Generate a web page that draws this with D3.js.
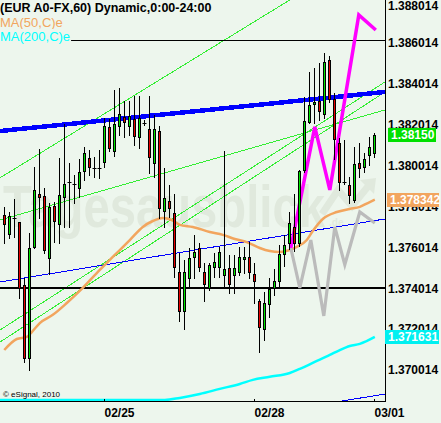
<!DOCTYPE html>
<html><head><meta charset="utf-8">
<script src="https://cdn.jsdelivr.net/npm/d3@7"></script>
<style>body{margin:0;background:#edf6ed}svg{display:block}</style>
</head><body><svg id="c" width="441" height="423"></svg>
<script>
// ---------- data ----------
const openP  = [1.37760,1.37666,1.37745,1.37725,1.37418,1.37060,1.37603,1.37862,1.37853,1.37549,1.37804,1.37715,1.37848,1.37921,1.37911,1.37892,1.37975,1.38038,1.37990,1.37990,
1.38019,1.38190,1.38072,1.38195,1.38239,1.38195,1.38229,1.38141,1.38209,1.38180,1.38014,1.38170,1.37779,1.37828,1.37769,1.37481,1.37290,1.37452,1.37554,1.37598,
1.37481,1.37403,1.37506,1.37506,1.37467,1.37501,1.37467,1.37481,1.37544,1.37554,1.37471,1.37339,1.37202,1.37324,1.37403,1.37437,1.37568,1.37622,1.37701,1.37622,
1.37980,1.38214,1.38302,1.38317,1.38253,1.38518,1.38327,1.38111,1.37921,1.37907,1.37833,1.38014,1.37995,1.38053,1.38062];
const highP  = [1.37799,1.37774,1.37838,1.37727,1.37452,1.37671,1.37995,1.38082,1.37892,1.37818,1.37823,1.38038,1.38204,1.38014,1.37956,1.38033,1.38092,1.38077,1.38043,1.38077,
1.38234,1.38229,1.38371,1.38381,1.38317,1.38317,1.38342,1.38342,1.38224,1.38342,1.38249,1.38195,1.37990,1.37907,1.37862,1.37573,1.37540,1.37598,1.37662,1.37622,
1.37525,1.37525,1.37573,1.37603,1.38072,1.37564,1.37564,1.37603,1.37603,1.37627,1.37525,1.37349,1.37383,1.37452,1.37496,1.37613,1.37662,1.37774,1.37862,1.37980,
1.38337,1.38459,1.38479,1.38503,1.38551,1.38537,1.38356,1.38136,1.38126,1.37946,1.38092,1.38111,1.38062,1.38141,1.38160];
const lowP   = [1.37622,1.37647,1.37652,1.37354,1.37041,1.37002,1.37598,1.37745,1.37573,1.37471,1.37627,1.37622,1.37701,1.37701,1.37818,1.37848,1.37931,1.37956,1.37946,1.37941,
1.37995,1.38072,1.38048,1.38151,1.38141,1.38151,1.38102,1.38087,1.38200,1.37965,1.37946,1.37745,1.37701,1.37750,1.37457,1.37241,1.37202,1.37403,1.37452,1.37486,
1.37339,1.37393,1.37457,1.37457,1.37408,1.37378,1.37378,1.37467,1.37476,1.37452,1.37329,1.37089,1.37148,1.37261,1.37369,1.37403,1.37511,1.37593,1.37583,1.37608,
1.37970,1.38209,1.38209,1.38224,1.38234,1.38312,1.38033,1.37882,1.37911,1.37818,1.37823,1.37946,1.37970,1.38005,1.38043];
const closeP = [1.37715,1.37755,1.37745,1.37403,1.37060,1.37598,1.37882,1.37848,1.37588,1.37799,1.37730,1.37858,1.37911,1.37921,1.37911,1.37970,1.38062,1.37995,1.37990,1.37990,
1.38195,1.38087,1.38204,1.38253,1.38214,1.38244,1.38146,1.38234,1.38209,1.38043,1.38180,1.37794,1.37843,1.37794,1.37506,1.37290,1.37481,1.37549,1.37578,1.37506,
1.37422,1.37516,1.37530,1.37578,1.37496,1.37422,1.37501,1.37554,1.37554,1.37481,1.37437,1.37212,1.37329,1.37398,1.37437,1.37568,1.37613,1.37720,1.37622,1.37975,
1.38219,1.38298,1.38312,1.38268,1.38508,1.38327,1.38131,1.37921,1.37921,1.37858,1.38009,1.37990,1.38033,1.38092,1.38151];

// moving averages: [bar index, value]
const ma50 = [[0,1.37099],[2.5,1.37153],[4.5,1.37163],[5.5,1.37187],[7.1,1.37231],[9.7,1.37271],[12.5,1.37329],[15.7,1.37403],[19.1,1.37491],[21.1,1.37540],
[23.1,1.37588],[25.1,1.37637],[27.7,1.37701],[29.7,1.37730],[31.7,1.37745],[33.5,1.37735],[35.1,1.37711],[37.7,1.37701],[41.1,1.37676],[43.7,1.37662],
[46.1,1.37642],[48.5,1.37627],[51.1,1.37598],[53.1,1.37583],[55.1,1.37578],[57.1,1.37588],[58.5,1.37603],[60.5,1.37637],[61.7,1.37681],[63.7,1.37740],
[66.5,1.37774],[69.1,1.37789],[71.1,1.37799],[72.7,1.37818],[74.1,1.37834]];
const ma200 = [[-0.9,1.36855],[32.1,1.36855],[35.1,1.36865],[39.1,1.36884],[43.1,1.36909],[47.1,1.36933],[49.7,1.36953],[53.1,1.36968],[57.1,1.36987],[59.1,1.37007],
[62.1,1.37041],[65.1,1.37075],[67.1,1.37099],[69.1,1.37119],[71.1,1.37129],[74.1,1.37163]];

// drawn trend lines: two anchors [bar index, price]
const fanLines   = [[[-0.86,1.37941],[57.1,1.38811]],[[-0.86,1.37735],[76.14,1.38273]],[[-0.86,1.37197],[76.14,1.38410]],[[-0.86,1.37138],[76.14,1.38361]]];
const thickBlue  = [[-0.86,1.38170],[76.14,1.38361]];
const thinBlue   = [[[-0.86,1.37432],[76.14,1.37740]],[[-0.86,1.36576],[76.14,1.36884]]];
const hLevels    = [1.38615, 1.37403];
const magentaZig = [[57.3,1.37598],[62.1,1.38190],[65.1,1.37882],[70.9,1.38738],[74.3,1.38664]];
const grayZig    = [[57.3,1.37598],[59.1,1.37403],[61.3,1.37637],[63.9,1.37266],[66.1,1.37701],[68.1,1.37516],[71.1,1.37774],[74.1,1.37720]];

const yTicks = [1.370014,1.372014,1.374014,1.376014,1.378014,1.380014,1.382014,1.384014,1.386014,1.388014];
const dateLabels = ["02/25","02/28","03/01"];
const dateIdx = [20,50,74];
const lastLabels = [["1.38150",1.38150],["1.378342",1.378342],["1.371631",1.371631]];

// ---------- drawing ----------
const W=441,H=423, R=385, B=401;
const FONT='"Liberation Sans", Arial, sans-serif';
const svg=d3.select("#c");
svg.append("rect").attr("width",W).attr("height",H).attr("fill","#edf6ed");
const x=d3.scaleLinear().domain([0,74]).range([4.3,374.3]);
const y=d3.scaleLinear().domain([1.370014,1.386014]).range([370,42.8]);
const px=i=>Math.floor(x(i))+0.5;
const iL=x.invert(0), iR=x.invert(R);

svg.append("defs").append("clipPath").attr("id","clip").append("rect").attr("x",0).attr("y",0).attr("width",R).attr("height",B);
const g=svg.append("g").attr("clip-path","url(#clip)");

// watermark
const wm=g.append("g").attr("fill","#e0e9dd").attr("stroke","none");
wm.append("text").attr("x",3).attr("y",227).attr("font-family",FONT).attr("font-weight","bold")
  .attr("font-size",60).attr("textLength",322).attr("lengthAdjust","spacingAndGlyphs").text("Tagesausblick");
wm.append("text").attr("x",329).attr("y",226).attr("font-family",FONT).attr("font-weight","bold").attr("font-size",10).text(".de");
g.append("path").attr("d","M322,214 L338,190 L352,206 L370,184").attr("fill","none").attr("stroke","#e0e9dd").attr("stroke-width",7);
g.append("path").attr("d","M360,180 L376,178 L374,194 Z").attr("fill","#e0e9dd");

function extend(a){
  const s=(a[1][1]-a[0][1])/(a[1][0]-a[0][0]);
  const pL=a[0][1]+s*(iL-a[0][0]), pR=a[0][1]+s*(iR-a[0][0]);
  return [x(iL),y(pL),x(iR),y(pR)];
}
function tline(a,color,w){
  const c=extend(a);
  g.append("line").attr("x1",c[0]).attr("y1",c[1]).attr("x2",c[2]).attr("y2",c[3])
   .attr("stroke",color).attr("stroke-width",w).attr("shape-rendering","crispEdges");
}
fanLines.forEach(a=>tline(a,"#33ee33",1));
thinBlue.forEach(a=>tline(a,"#0000ff",1));
tline(thickBlue,"#0000ff",4.5);
hLevels.forEach((v,k)=>{
  const yy=Math.round(y(v))+(k?0:0.5);
  g.append("line").attr("x1",0).attr("x2",R).attr("y1",yy).attr("y2",yy)
   .attr("stroke","#000").attr("stroke-width",k?2:1).attr("shape-rendering","crispEdges");
});

const line=d3.line().x(d=>x(d[0])).y(d=>y(d[1]));
g.append("path").attr("d",line.curve(d3.curveMonotoneX)(ma200)).attr("fill","none").attr("stroke","#00ffff").attr("stroke-width",2.5);
g.append("path").attr("d",line.curve(d3.curveMonotoneX)(ma50)).attr("fill","none").attr("stroke","#f2a55e").attr("stroke-width",2.5);
g.append("path").attr("d",line.curve(d3.curveLinear)(grayZig)).attr("fill","none").attr("stroke","#bbbbbb").attr("stroke-width",3.2).attr("stroke-linejoin","miter");
g.append("path").attr("d",line.curve(d3.curveLinear)(magentaZig)).attr("fill","none").attr("stroke","#ff00ff").attr("stroke-width",3.5).attr("stroke-linejoin","miter");

// candles
const cg=g.append("g");
openP.forEach((o,i)=>{
  const c=closeP[i], cx=px(i);
  cg.append("line").attr("x1",cx).attr("x2",cx).attr("y1",Math.round(y(highP[i]))).attr("y2",Math.round(y(lowP[i]))+1)
    .attr("stroke","#000").attr("stroke-width",1).attr("shape-rendering","crispEdges");
  const yt=Math.round(y(Math.max(o,c)))+0.5, yb=Math.round(y(Math.min(o,c)))+0.5;
  if(yb-yt<1){
    cg.append("line").attr("x1",cx-2).attr("x2",cx+2).attr("y1",yt).attr("y2",yt).attr("stroke","#000").attr("stroke-width",1);
  } else {
    cg.append("rect").attr("x",cx-1).attr("y",yt).attr("width",2).attr("height",yb-yt)
      .attr("fill",c>=o?"#00e600":"#e60000").attr("stroke","#000").attr("stroke-width",1);
  }
});

// axes
svg.append("line").attr("x1",R+0.5).attr("x2",R+0.5).attr("y1",0).attr("y2",B+1).attr("stroke","#000").attr("stroke-width",1);
svg.append("line").attr("x1",0).attr("x2",R+1).attr("y1",B+0.5).attr("y2",B+0.5).attr("stroke","#000").attr("stroke-width",1);
yTicks.forEach(v=>{
  svg.append("text").attr("x",388).attr("y",Math.max(y(v),6)).attr("dy","0.36em").attr("font-family",FONT)
    .attr("font-weight","bold").attr("font-size",12).attr("fill","#000").text(d3.format(".6f")(v));
});
dateIdx.forEach((d,k)=>{
  const tx=Math.floor(x(d))+0.5;
  svg.append("line").attr("x1",tx).attr("x2",tx).attr("y1",B-2).attr("y2",B+1).attr("stroke","#000");
  svg.append("text").attr("x",tx).attr("y",417).attr("font-family",FONT).attr("font-weight","bold").attr("font-size",12).text(dateLabels[k]);
});
const boxCol=["#00e000","#f2a55e","#00f0f0"];
const boxX=[388,387,385];
lastLabels.forEach((l,k)=>{
  const cy=y(l[1]);
  svg.append("rect").attr("x",boxX[k]).attr("y",Math.round(cy-7)).attr("width",439-boxX[k]-(k==0?3:0)).attr("height",14).attr("fill",boxCol[k]);
  svg.append("text").attr("x",boxX[k]+3).attr("y",cy).attr("dy","0.36em").attr("font-family",FONT).attr("font-weight","bold")
    .attr("font-size",12).attr("fill","#fff").text(l[0]);
});

// legend
const lg=svg.append("g").attr("font-family",FONT);
lg.append("text").attr("x",0).attr("y",12).attr("font-weight","bold").attr("font-size",12.5).attr("fill","#000").text("(EUR A0-FX,60) Dynamic,0:00-24:00");
lg.append("text").attr("x",0).attr("y",27).attr("font-size",13).attr("fill","#f2a55e").text("MA(50,C)e");
const bb=lg.append("rect").attr("fill","#edf6ed");
const t3=lg.append("text").attr("x",0).attr("y",41).attr("font-size",13).attr("fill","#00ffff").text("MA(200,C)e");
const b3=t3.node().getBBox();
bb.attr("x",0).attr("y",b3.y).attr("width",b3.width+1).attr("height",b3.height);
svg.append("text").attr("x",3).attr("y",397).attr("font-family",FONT).attr("font-size",8).attr("fill","#000").text("\u00a9 eSignal, 2010");
</script></body></html>
